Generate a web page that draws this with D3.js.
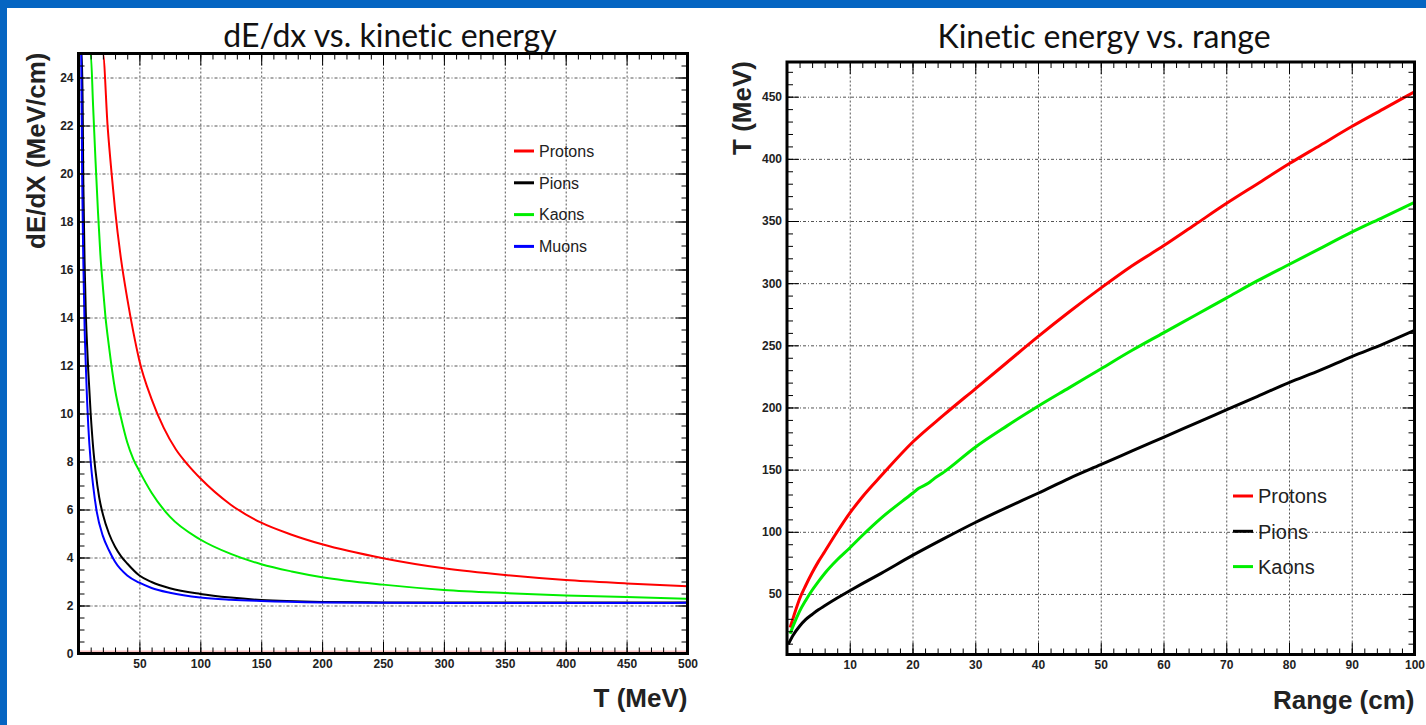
<!DOCTYPE html>
<head>
    <meta charset="utf-8">
    <style>
        body { margin: 0; background: #fff; }
        .frame { fill: none; stroke: #000; stroke-width: 3px; }
        .grid line { stroke: #555; stroke-width: 1px; stroke-dasharray: 2,2; }
        .hgrid line { stroke-dasharray: 3,2,1,2; }
        .grid .domain, .ticks .domain { display: none; }
        .ticks line { stroke: #000; stroke-width: 1px; }
        .ticks text { font-family: "Liberation Sans", Arial, sans-serif; font-weight: bold; font-size: 12px; fill: #222; }
        .curve { fill: none; stroke-linejoin: round; }
        .title { font-family: Lato, "Open Sans", sans-serif; font-size: 32px; fill: #111; text-anchor: middle;
                 font-variant-ligatures: none; font-feature-settings: "liga" 0; }
        .axis-title { font-family: "Liberation Sans", Arial, sans-serif; font-weight: bold; font-size: 26px; fill: #222; }
        .legend-text { font-family: "Liberation Sans", Arial, sans-serif; fill: #222; }
    </style>
</head>

<body>
    <script src="https://d3js.org/d3.v7.min.js"></script>

    <script>
        // ---- dE/dx vs kinetic energy: [T (MeV), dE/dx (MeV/cm)]
        var protonDedx = [[0.5,25],[20,25],[24,21.9],[27,20.1],[30,18.5],[35,16.4],[40,14.8],[45,13.4],[50,12.2],
            [60,10.6],[70,9.4],[80,8.5],[90,7.85],[100,7.3],[125,6.2],[150,5.45],[175,4.95],[200,4.55],
            [250,3.97],[300,3.55],[350,3.27],[400,3.06],[450,2.92],[500,2.8]];
        var pionDedx = [[0.5,25],[2.9,25],[4,19.5],[5,16.3],[6,14.2],[7,12.9],[8,11.8],[10,10],[12,8.6],[14,7.6],
            [17,6.5],[20,5.8],[25,5.0],[30,4.45],[35,4.05],[40,3.75],[50,3.25],[60,2.98],[75,2.72],[100,2.48],
            [125,2.33],[150,2.23],[200,2.15],[250,2.13],[300,2.12],[400,2.12],[500,2.13]];
        var kaonDedx = [[0.5,25],[10,25],[12,22.8],[14,20.5],[16,18.4],[18,16.6],[20,15.3],[22,14.1],[25,12.8],
            [30,11.0],[35,9.8],[40,8.8],[45,8.1],[50,7.6],[60,6.7],[75,5.7],[100,4.75],[125,4.15],[150,3.72],
            [175,3.42],[200,3.18],[250,2.87],[300,2.65],[350,2.52],[400,2.42],[450,2.35],[500,2.28]];
        var muonDedx = [[0.5,25],[2.2,25],[3,19.8],[4,16.2],[5,13.6],[6,12],[7,10.6],[8,9.5],[10,8.0],[12,7.0],
            [15,5.9],[20,4.9],[25,4.3],[30,3.82],[40,3.25],[50,2.95],[60,2.73],[75,2.53],[100,2.33],[125,2.24],
            [150,2.19],[200,2.13],[250,2.11],[300,2.1],[400,2.1],[500,2.11]];
        // the faint red line lying on the x axis
        var protonFloor = [[0,0],[500,0]];

        // ---- kinetic energy vs range: [range (cm), T (MeV)]
        var protonRange = [[0.5,23],[1,31],[2,46],[3,57],[4,67],[5,76],[6,84],[8,100],[10,115],[12,128],[15,145],
            [20,172],[25,194],[30,215],[35,236],[40,257],[45,277],[50,296],[55,314],[60,330],[65,347],[70,364],
            [75,380],[80,396],[85,411],[90,426],[95,440],[100,454]];
        var kaonRange = [[0.5,18],[1,24.5],[2,36],[3,45],[4,53],[5,60],[6,66.5],[8,77.5],[10,87],[12,97],[15,111],
            [20,131],[21,135],[22.5,139],[23.5,143],[25,148],[30,168],[35,185],[40,201],[45,216],[50,231],
            [55,246],[60,260],[65,274],[70,288],[75,302],[80,315],[85,328],[90,341],[95,353],[100,365]];
        var pionRange = [[0.2,9.5],[1,17],[2,24],[3,29.5],[4,33.5],[5,37.3],[6,40.5],[8,46.7],[10,52.6],[12,58.3],
            [15,66.6],[20,81],[25,94.5],[30,107.5],[35,119.5],[40,131],[45,143],[50,154],[55,165],[60,176],
            [65,187],[70,198],[75,209],[80,220],[85,230],[90,241],[95,251],[100,262]];

        // ---- ticks
        var dedxXTicks = [50,100,150,200,250,300,350,400,450,500];
        var dedxYTicks = [0,2,4,6,8,10,12,14,16,18,20,22,24];
        var rangeXTicks = [10,20,30,40,50,60,70,80,90,100];
        var rangeYTicks = [50,100,150,200,250,300,350,400,450];

        var dedxLegend = ["Protons", "Pions", "Kaons", "Muons"];
        var rangeLegend = ["Protons", "Pions", "Kaons"];

        var width = 1426, height = 725;

        var svg = d3.select("body").append("svg")
            .attr("width", width)
            .attr("height", height);

        svg.append("rect").attr("width", width).attr("height", height).attr("fill", "#fff");
        // slide border
        svg.append("rect").attr("x", 0).attr("y", 0).attr("width", 7).attr("height", height).attr("fill", "#0565c2");
        svg.append("rect").attr("x", 0).attr("y", 0).attr("width", width).attr("height", 8).attr("fill", "#0565c2");

        function drawPanel(p) {
            var g = svg.append("g");
            var x = d3.scaleLinear().domain(p.xDomain).range([p.left, p.right]);
            var y = d3.scaleLinear().domain(p.yDomain).range([p.bottom, p.top]).clamp(true);
            var h = p.bottom - p.top, w = p.right - p.left;

            //grid
            g.append("g").attr("class", "grid")
                .attr("transform", "translate(0," + p.bottom + ")")
                .call(d3.axisBottom(x).tickValues(p.xTicks.filter(function(d) { return d > p.xDomain[0] && d < p.xDomain[1]; }))
                    .tickSize(-h).tickFormat(""));
            g.append("g").attr("class", "grid hgrid")
                .attr("transform", "translate(" + p.left + ",0)")
                .call(d3.axisLeft(y).tickValues(p.yTicks.filter(function(d) { return d > p.yDomain[0] && d < p.yDomain[1]; }))
                    .tickSize(-w).tickFormat(""));

            var clipId = "clip-" + p.id;
            g.append("clipPath").attr("id", clipId)
                .append("rect").attr("x", p.left).attr("y", p.top - 2).attr("width", w).attr("height", h + 2);

            var line = d3.line()
                .curve(d3.curveMonotoneX)
                .x(function(d) { return x(d[0]); })
                .y(function(d) { return y(d[1]); });

            p.series.forEach(function(s) {
                g.append("path")
                    .datum(s.data)
                    .attr("class", "curve")
                    .attr("clip-path", "url(#" + clipId + ")")
                    .attr("stroke", s.color)
                    .attr("stroke-width", s.width || p.lineWidth)
                    .attr("opacity", s.opacity || 1)
                    .attr("transform", s.shift ? "translate(0," + s.shift + ")" : null)
                    .attr("d", line);
            });

            //minor ticks, all four sides
            var minorX = d3.range(p.xDomain[0], p.xDomain[1] + 1e-9, p.xMinor);
            var minorY = d3.range(Math.ceil(p.yDomain[0] / p.yMinor) * p.yMinor, p.yDomain[1], p.yMinor);
            g.append("g").attr("class", "ticks").attr("transform", "translate(0," + p.bottom + ")")
                .call(d3.axisBottom(x).tickValues(minorX).tickSize(-6).tickFormat(""));
            g.append("g").attr("class", "ticks").attr("transform", "translate(0," + p.top + ")")
                .call(d3.axisTop(x).tickValues(minorX).tickSize(-6).tickFormat(""));
            g.append("g").attr("class", "ticks").attr("transform", "translate(" + p.left + ",0)")
                .call(d3.axisLeft(y).tickValues(minorY).tickSize(-6).tickFormat(""));
            g.append("g").attr("class", "ticks").attr("transform", "translate(" + p.right + ",0)")
                .call(d3.axisRight(y).tickValues(minorY).tickSize(-6).tickFormat(""));

            //major ticks with labels
            g.append("g").attr("class", "ticks").attr("transform", "translate(0," + p.bottom + ")")
                .call(d3.axisBottom(x).tickValues(p.xTicks).tickSize(-12).tickPadding(6))
                .attr("font-size", null).attr("font-family", null);
            g.append("g").attr("class", "ticks").attr("transform", "translate(" + p.left + ",0)")
                .call(d3.axisLeft(y).tickValues(p.yTicks).tickSize(-12).tickPadding(5))
                .attr("font-size", null).attr("font-family", null);
            g.append("g").attr("class", "ticks").attr("transform", "translate(0," + p.top + ")")
                .call(d3.axisTop(x).tickValues(p.xTicks).tickSize(-12).tickFormat(""));
            g.append("g").attr("class", "ticks").attr("transform", "translate(" + p.right + ",0)")
                .call(d3.axisRight(y).tickValues(p.yTicks).tickSize(-12).tickFormat(""));

            //frame
            g.append("rect").attr("class", "frame")
                .attr("x", p.left).attr("y", p.top).attr("width", w).attr("height", h);

            //titles
            g.append("text").attr("class", "title")
                .attr("x", p.titleX).attr("y", p.titleY)
                .text(p.title);
            g.append("text").attr("class", "axis-title")
                .attr("x", p.right).attr("y", p.xTitleY)
                .style("text-anchor", "end")
                .text(p.xTitle);
            g.append("text").attr("class", "axis-title")
                .attr("transform", "translate(" + p.yTitleX + "," + (p.top - 1) + ") rotate(-90)")
                .style("text-anchor", "end")
                .text(p.yTitle);

            //legend
            p.legend.names.forEach(function(name, i) {
                var ly = p.legend.y + i * p.legend.step;
                g.append("line")
                    .attr("x1", p.legend.x).attr("x2", p.legend.x + 20)
                    .attr("y1", ly).attr("y2", ly)
                    .attr("stroke", p.series[i].color)
                    .attr("stroke-width", 3);
                g.append("text").attr("class", "legend-text")
                    .attr("x", p.legend.x + 25).attr("y", ly)
                    .attr("dy", "0.36em")
                    .style("font-size", p.legend.size + "px")
                    .text(name);
            });
        }

        drawPanel({
            id: "dedx",
            left: 78.5, right: 687.5, top: 53.5, bottom: 653.5,
            xDomain: [0, 500], yDomain: [0, 25],
            xTicks: dedxXTicks, yTicks: dedxYTicks,
            xMinor: 10, yMinor: 0.5,
            lineWidth: 2,
            series: [
                {data: protonDedx, color: "#ff0000"},
                {data: pionDedx, color: "#000000"},
                {data: kaonDedx, color: "#00ee00"},
                {data: muonDedx, color: "#0000ff"},
                {data: protonFloor, color: "#ff0000", width: 1.5, opacity: 0.45, shift: -2}
            ],
            title: "dE/dx vs. kinetic energy", titleX: 390, titleY: 47,
            xTitle: "T (MeV)", xTitleY: 707,
            yTitle: "dE/dX (MeV/cm)", yTitleX: 45,
            legend: {names: dedxLegend, x: 514, y: 151, step: 31.8, size: 16}
        });

        drawPanel({
            id: "range",
            left: 787, right: 1414.5, top: 62, bottom: 654.5,
            xDomain: [0, 100], yDomain: [1.3, 477.9],
            xTicks: rangeXTicks, yTicks: rangeYTicks,
            xMinor: 2, yMinor: 10,
            lineWidth: 3,
            series: [
                {data: protonRange, color: "#ff0000"},
                {data: pionRange, color: "#000000"},
                {data: kaonRange, color: "#00ee00"}
            ],
            title: "Kinetic energy vs. range", titleX: 1104, titleY: 48,
            xTitle: "Range (cm)", xTitleY: 709,
            yTitle: "T (MeV)", yTitleX: 751,
            legend: {names: rangeLegend, x: 1233, y: 496, step: 35.3, size: 20}
        });
    </script>
</body>
